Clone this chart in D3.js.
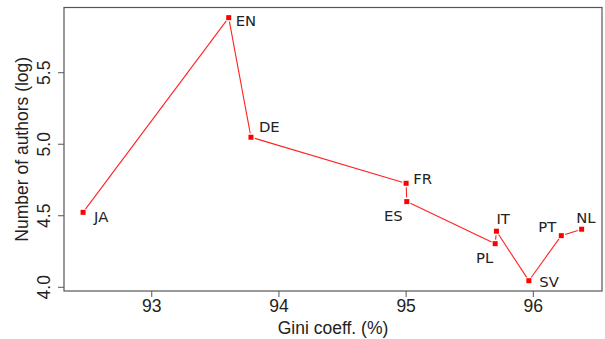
<!DOCTYPE html>
<html lang="en">

<head>
    <meta charset="UTF-8">
    <title>Gini vs authors</title>
    <script src="https://d3js.org/d3.v7.min.js"></script>
    <style>
        body { margin: 0; background: #fff; }
        .tick-label, .axis-title { font-family: "Liberation Sans", Arial, sans-serif; font-size: 17.5px; fill: #222; }
        .point-label { font-family: "DejaVu Sans", sans-serif; font-size: 14.8px; fill: #222; }
    </style>
</head>

<body>
    <div id="chart"></div>

    <script>
        // languages, ordered as the line is drawn
        const languages = ["JA", "EN", "DE", "FR", "ES", "PL", "IT", "SV", "PT", "NL"];
        const gini = [92.46, 93.605, 93.78, 95.0, 95.005, 95.70, 95.71, 95.965, 96.22, 96.38];
        const logAuthors = [4.524, 5.885, 5.049, 4.727, 4.599, 4.305, 4.392, 4.046, 4.361, 4.406];

        const xTicks = [93, 94, 95, 96];
        const yTicks = [4.0, 4.5, 5.0, 5.5];

        // where each label sits relative to its point: [dx, dy, anchor]
        const labelPlacement = [
            [11, 10, "start"], [7, 8, "start"], [8, -5, "start"], [7, 1, "start"],
            [-4, 19, "end"], [-2, 19, "end"], [0, -7.5, "start"], [10.5, 6, "start"],
            [-5, -4, "end"], [-5.5, -6, "start"]
        ];

        const width = 605;
        const height = 339;
        const plot = { left: 64, right: 602, top: 7.5, bottom: 291 };

        const svg = d3.select("#chart")
            .append("svg")
            .attr("width", width)
            .attr("height", height);

        const x = d3.scaleLinear()
            .domain([92.31, 96.54])
            .range([plot.left, plot.right]);

        const y = d3.scaleLinear()
            .domain([3.974, 5.956])
            .range([plot.bottom, plot.top]);

        const data = languages.map((d, i) => ({ lang: d, x: gini[i], y: logAuthors[i] }));

        // frame
        svg.append("rect")
            .attr("x", plot.left)
            .attr("y", plot.top)
            .attr("width", plot.right - plot.left)
            .attr("height", plot.bottom - plot.top)
            .attr("fill", "none")
            .attr("stroke", "#555")
            .attr("stroke-width", 1.2);

        // x axis ticks
        const xAxis = svg.append("g");
        xAxis.selectAll("line")
            .data(xTicks)
            .join("line")
            .attr("x1", d => x(d)).attr("x2", d => x(d))
            .attr("y1", plot.bottom).attr("y2", plot.bottom + 6)
            .attr("stroke", "#555");
        xAxis.selectAll("text")
            .data(xTicks)
            .join("text")
            .attr("class", "tick-label")
            .attr("x", d => x(d))
            .attr("y", 312)
            .attr("text-anchor", "middle")
            .text(d => d);

        // y axis ticks (labels rotated like R's default las=0)
        const yAxis = svg.append("g");
        yAxis.selectAll("line")
            .data(yTicks)
            .join("line")
            .attr("x1", plot.left - 6).attr("x2", plot.left)
            .attr("y1", d => y(d)).attr("y2", d => y(d))
            .attr("stroke", "#555");
        yAxis.selectAll("text")
            .data(yTicks)
            .join("text")
            .attr("class", "tick-label")
            .attr("transform", d => `translate(49.5, ${y(d)}) rotate(-90)`)
            .attr("text-anchor", "middle")
            .text(d => d.toFixed(1));

        svg.append("text")
            .attr("class", "axis-title")
            .attr("x", (plot.left + plot.right) / 2)
            .attr("y", 334)
            .attr("text-anchor", "middle")
            .text("Gini coeff. (%)");

        svg.append("text")
            .attr("class", "axis-title")
            .attr("transform", `translate(27.5, ${(plot.top + plot.bottom) / 2}) rotate(-90)`)
            .attr("text-anchor", "middle")
            .text("Number of authors (log)");

        // line segments with a small gap around each point (type = "b")
        const gap = 4;
        const segments = d3.pairs(data).map(([a, b]) => {
            const x1 = x(a.x), y1 = y(a.y), x2 = x(b.x), y2 = y(b.y);
            const len = Math.hypot(x2 - x1, y2 - y1);
            const ux = (x2 - x1) / len, uy = (y2 - y1) / len;
            return { x1: x1 + ux * gap, y1: y1 + uy * gap, x2: x2 - ux * gap, y2: y2 - uy * gap, len };
        }).filter(s => s.len > 2 * gap);

        svg.append("g")
            .selectAll("line")
            .data(segments)
            .join("line")
            .attr("x1", d => d.x1).attr("y1", d => d.y1)
            .attr("x2", d => d.x2).attr("y2", d => d.y2)
            .attr("stroke", "#f22")
            .attr("stroke-width", 1.1);

        const sq = 5;
        svg.append("g")
            .selectAll("rect")
            .data(data)
            .join("rect")
            .attr("x", d => x(d.x) - sq / 2)
            .attr("y", d => y(d.y) - sq / 2)
            .attr("width", sq)
            .attr("height", sq)
            .attr("fill", "#f00");

        svg.append("g")
            .selectAll("text")
            .data(data)
            .join("text")
            .attr("class", "point-label")
            .attr("x", (d, i) => x(d.x) + labelPlacement[i][0])
            .attr("y", (d, i) => y(d.y) + labelPlacement[i][1])
            .attr("text-anchor", (d, i) => labelPlacement[i][2])
            .text(d => d.lang);
    </script>
</body>

</html>
